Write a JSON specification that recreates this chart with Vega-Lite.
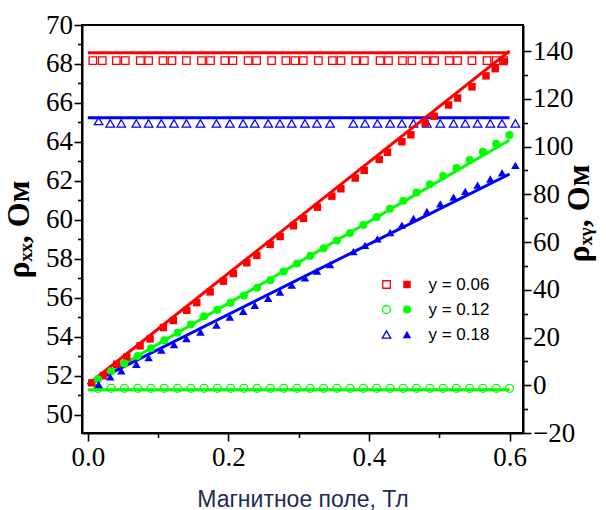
{
  "$schema": "https://vega.github.io/schema/vega-lite/v6.json",
  "width": 441,
  "height": 408,
  "autosize": {"type": "none"},
  "padding": {"left": 82, "top": 25, "right": 83, "bottom": 77},
  "background": "white",
  "config": {
    "view": {"stroke": "black", "strokeWidth": 2},
    "axis": {
      "grid": false,
      "domainColor": "black",
      "domainWidth": 2,
      "tickColor": "black",
      "tickWidth": 1.6,
      "labelColor": "black",
      "labelFont": "'Liberation Serif', 'Times New Roman', serif",
      "labelFontSize": 27,
      "labelFlush": false,
      "labelOverlap": false,
      "titleColor": "black"
    }
  },
  "datasets": {
    "xx_lines": [
      {"series": "y = 0.06", "B": 0, "rho": 68.58},
      {"series": "y = 0.06", "B": 0.6, "rho": 68.58},
      {"series": "y = 0.12", "B": 0, "rho": 51.27},
      {"series": "y = 0.12", "B": 0.6, "rho": 51.27},
      {"series": "y = 0.18", "B": 0, "rho": 65.24},
      {"series": "y = 0.18", "B": 0.6, "rho": 65.24}
    ],
    "xy_lines": [
      {"series": "y = 0.06", "B": 0, "rho": 0.3},
      {"series": "y = 0.06", "B": 0.6, "rho": 140},
      {"series": "y = 0.12", "B": 0, "rho": 0.2},
      {"series": "y = 0.12", "B": 0.6, "rho": 102.7},
      {"series": "y = 0.18", "B": 0, "rho": 0.3},
      {"series": "y = 0.18", "B": 0.6, "rho": 88.5}
    ],
    "xx_pts": [
      {"series": "y = 0.06", "B": 0.0071, "rho": 68.17},
      {"series": "y = 0.06", "B": 0.0205, "rho": 68.17},
      {"series": "y = 0.06", "B": 0.0405, "rho": 68.17},
      {"series": "y = 0.06", "B": 0.0533, "rho": 68.17},
      {"series": "y = 0.06", "B": 0.0747, "rho": 68.17},
      {"series": "y = 0.06", "B": 0.0865, "rho": 68.17},
      {"series": "y = 0.06", "B": 0.1069, "rho": 68.17},
      {"series": "y = 0.06", "B": 0.1197, "rho": 68.17},
      {"series": "y = 0.06", "B": 0.1403, "rho": 68.17},
      {"series": "y = 0.06", "B": 0.1617, "rho": 68.17},
      {"series": "y = 0.06", "B": 0.1745, "rho": 68.17},
      {"series": "y = 0.06", "B": 0.1949, "rho": 68.17},
      {"series": "y = 0.06", "B": 0.2063, "rho": 68.17},
      {"series": "y = 0.06", "B": 0.2281, "rho": 68.17},
      {"series": "y = 0.06", "B": 0.2401, "rho": 68.17},
      {"series": "y = 0.06", "B": 0.2614, "rho": 68.17},
      {"series": "y = 0.06", "B": 0.2818, "rho": 68.17},
      {"series": "y = 0.06", "B": 0.2947, "rho": 68.17},
      {"series": "y = 0.06", "B": 0.3065, "rho": 68.17},
      {"series": "y = 0.06", "B": 0.3279, "rho": 68.17},
      {"series": "y = 0.06", "B": 0.3478, "rho": 68.17},
      {"series": "y = 0.06", "B": 0.3602, "rho": 68.17},
      {"series": "y = 0.06", "B": 0.3812, "rho": 68.17},
      {"series": "y = 0.06", "B": 0.3934, "rho": 68.17},
      {"series": "y = 0.06", "B": 0.4158, "rho": 68.17},
      {"series": "y = 0.06", "B": 0.4277, "rho": 68.17},
      {"series": "y = 0.06", "B": 0.4476, "rho": 68.17},
      {"series": "y = 0.06", "B": 0.4610, "rho": 68.17},
      {"series": "y = 0.06", "B": 0.4810, "rho": 68.17},
      {"series": "y = 0.06", "B": 0.4932, "rho": 68.17},
      {"series": "y = 0.06", "B": 0.5142, "rho": 68.17},
      {"series": "y = 0.06", "B": 0.5260, "rho": 68.17},
      {"series": "y = 0.06", "B": 0.5465, "rho": 68.17},
      {"series": "y = 0.06", "B": 0.5679, "rho": 68.17},
      {"series": "y = 0.06", "B": 0.5808, "rho": 68.17},
      {"series": "y = 0.06", "B": 0.5916, "rho": 68.17},
      {"series": "y = 0.12", "B": 0.0143, "rho": 51.35},
      {"series": "y = 0.12", "B": 0.0332, "rho": 51.35},
      {"series": "y = 0.12", "B": 0.0520, "rho": 51.35},
      {"series": "y = 0.12", "B": 0.0709, "rho": 51.35},
      {"series": "y = 0.12", "B": 0.0898, "rho": 51.35},
      {"series": "y = 0.12", "B": 0.1087, "rho": 51.35},
      {"series": "y = 0.12", "B": 0.1276, "rho": 51.35},
      {"series": "y = 0.12", "B": 0.1465, "rho": 51.35},
      {"series": "y = 0.12", "B": 0.1654, "rho": 51.35},
      {"series": "y = 0.12", "B": 0.1843, "rho": 51.35},
      {"series": "y = 0.12", "B": 0.2032, "rho": 51.35},
      {"series": "y = 0.12", "B": 0.2220, "rho": 51.35},
      {"series": "y = 0.12", "B": 0.2409, "rho": 51.35},
      {"series": "y = 0.12", "B": 0.2598, "rho": 51.35},
      {"series": "y = 0.12", "B": 0.2787, "rho": 51.35},
      {"series": "y = 0.12", "B": 0.2976, "rho": 51.35},
      {"series": "y = 0.12", "B": 0.3165, "rho": 51.35},
      {"series": "y = 0.12", "B": 0.3354, "rho": 51.35},
      {"series": "y = 0.12", "B": 0.3543, "rho": 51.35},
      {"series": "y = 0.12", "B": 0.3731, "rho": 51.35},
      {"series": "y = 0.12", "B": 0.3920, "rho": 51.35},
      {"series": "y = 0.12", "B": 0.4109, "rho": 51.35},
      {"series": "y = 0.12", "B": 0.4298, "rho": 51.35},
      {"series": "y = 0.12", "B": 0.4487, "rho": 51.35},
      {"series": "y = 0.12", "B": 0.4676, "rho": 51.35},
      {"series": "y = 0.12", "B": 0.4865, "rho": 51.35},
      {"series": "y = 0.12", "B": 0.5054, "rho": 51.35},
      {"series": "y = 0.12", "B": 0.5243, "rho": 51.35},
      {"series": "y = 0.12", "B": 0.5431, "rho": 51.35},
      {"series": "y = 0.12", "B": 0.5620, "rho": 51.35},
      {"series": "y = 0.12", "B": 0.5809, "rho": 51.35},
      {"series": "y = 0.12", "B": 0.5998, "rho": 51.35},
      {"series": "y = 0.18", "B": 0.0153, "rho": 65.07},
      {"series": "y = 0.18", "B": 0.0319, "rho": 64.95},
      {"series": "y = 0.18", "B": 0.0476, "rho": 64.95},
      {"series": "y = 0.18", "B": 0.0690, "rho": 64.95},
      {"series": "y = 0.18", "B": 0.0865, "rho": 64.95},
      {"series": "y = 0.18", "B": 0.1046, "rho": 64.95},
      {"series": "y = 0.18", "B": 0.1226, "rho": 64.95},
      {"series": "y = 0.18", "B": 0.1403, "rho": 64.95},
      {"series": "y = 0.18", "B": 0.1602, "rho": 64.95},
      {"series": "y = 0.18", "B": 0.1830, "rho": 64.95},
      {"series": "y = 0.18", "B": 0.2020, "rho": 64.95},
      {"series": "y = 0.18", "B": 0.2210, "rho": 64.95},
      {"series": "y = 0.18", "B": 0.2376, "rho": 64.95},
      {"series": "y = 0.18", "B": 0.2566, "rho": 64.95},
      {"series": "y = 0.18", "B": 0.2733, "rho": 64.95},
      {"series": "y = 0.18", "B": 0.2900, "rho": 64.95},
      {"series": "y = 0.18", "B": 0.3089, "rho": 64.95},
      {"series": "y = 0.18", "B": 0.3260, "rho": 64.95},
      {"series": "y = 0.18", "B": 0.3446, "rho": 64.95},
      {"series": "y = 0.18", "B": 0.3778, "rho": 64.95},
      {"series": "y = 0.18", "B": 0.3944, "rho": 64.95},
      {"series": "y = 0.18", "B": 0.4120, "rho": 64.95},
      {"series": "y = 0.18", "B": 0.4301, "rho": 64.95},
      {"series": "y = 0.18", "B": 0.4468, "rho": 64.95},
      {"series": "y = 0.18", "B": 0.4633, "rho": 64.95},
      {"series": "y = 0.18", "B": 0.4824, "rho": 64.95},
      {"series": "y = 0.18", "B": 0.5014, "rho": 64.95},
      {"series": "y = 0.18", "B": 0.5203, "rho": 64.95},
      {"series": "y = 0.18", "B": 0.5370, "rho": 64.95},
      {"series": "y = 0.18", "B": 0.5545, "rho": 64.95},
      {"series": "y = 0.18", "B": 0.5726, "rho": 64.95},
      {"series": "y = 0.18", "B": 0.5893, "rho": 64.95},
      {"series": "y = 0.18", "B": 0.6083, "rho": 64.95}
    ],
    "xy_pts": [
      {"series": "y = 0.06", "B": 0.0056, "rho": 1.0},
      {"series": "y = 0.06", "B": 0.0221, "rho": 4.0},
      {"series": "y = 0.06", "B": 0.0411, "rho": 8.8},
      {"series": "y = 0.06", "B": 0.0554, "rho": 11.8},
      {"series": "y = 0.06", "B": 0.0743, "rho": 16.5},
      {"series": "y = 0.06", "B": 0.0885, "rho": 19.4},
      {"series": "y = 0.06", "B": 0.1075, "rho": 24.2},
      {"series": "y = 0.06", "B": 0.1217, "rho": 27.1},
      {"series": "y = 0.06", "B": 0.1408, "rho": 31.4},
      {"series": "y = 0.06", "B": 0.1550, "rho": 34.6},
      {"series": "y = 0.06", "B": 0.1740, "rho": 39.1},
      {"series": "y = 0.06", "B": 0.1929, "rho": 43.6},
      {"series": "y = 0.06", "B": 0.2071, "rho": 46.8},
      {"series": "y = 0.06", "B": 0.2262, "rho": 51.3},
      {"series": "y = 0.06", "B": 0.2404, "rho": 54.4},
      {"series": "y = 0.06", "B": 0.2594, "rho": 59.0},
      {"series": "y = 0.06", "B": 0.2736, "rho": 62.3},
      {"series": "y = 0.06", "B": 0.2925, "rho": 66.8},
      {"series": "y = 0.06", "B": 0.3068, "rho": 69.9},
      {"series": "y = 0.06", "B": 0.3267, "rho": 74.6},
      {"series": "y = 0.06", "B": 0.3472, "rho": 79.2},
      {"series": "y = 0.06", "B": 0.3600, "rho": 82.3},
      {"series": "y = 0.06", "B": 0.3804, "rho": 86.8},
      {"series": "y = 0.06", "B": 0.3932, "rho": 90.0},
      {"series": "y = 0.06", "B": 0.4145, "rho": 94.6},
      {"series": "y = 0.06", "B": 0.4263, "rho": 97.6},
      {"series": "y = 0.06", "B": 0.4468, "rho": 102.0},
      {"series": "y = 0.06", "B": 0.4596, "rho": 104.9},
      {"series": "y = 0.06", "B": 0.4800, "rho": 109.7},
      {"series": "y = 0.06", "B": 0.4928, "rho": 112.7},
      {"series": "y = 0.06", "B": 0.5132, "rho": 117.4},
      {"series": "y = 0.06", "B": 0.5260, "rho": 120.3},
      {"series": "y = 0.06", "B": 0.5465, "rho": 125.0},
      {"series": "y = 0.06", "B": 0.5664, "rho": 129.6},
      {"series": "y = 0.06", "B": 0.5796, "rho": 132.6},
      {"series": "y = 0.06", "B": 0.5924, "rho": 135.6},
      {"series": "y = 0.12", "B": 0.0143, "rho": 2.5},
      {"series": "y = 0.12", "B": 0.0332, "rho": 5.9},
      {"series": "y = 0.12", "B": 0.0520, "rho": 9.1},
      {"series": "y = 0.12", "B": 0.0709, "rho": 12.3},
      {"series": "y = 0.12", "B": 0.0898, "rho": 15.5},
      {"series": "y = 0.12", "B": 0.1087, "rho": 18.8},
      {"series": "y = 0.12", "B": 0.1276, "rho": 22.0},
      {"series": "y = 0.12", "B": 0.1465, "rho": 25.4},
      {"series": "y = 0.12", "B": 0.1654, "rho": 28.9},
      {"series": "y = 0.12", "B": 0.1843, "rho": 31.6},
      {"series": "y = 0.12", "B": 0.2032, "rho": 34.6},
      {"series": "y = 0.12", "B": 0.2220, "rho": 37.6},
      {"series": "y = 0.12", "B": 0.2409, "rho": 40.8},
      {"series": "y = 0.12", "B": 0.2598, "rho": 44.0},
      {"series": "y = 0.12", "B": 0.2787, "rho": 47.6},
      {"series": "y = 0.12", "B": 0.2976, "rho": 51.0},
      {"series": "y = 0.12", "B": 0.3165, "rho": 54.2},
      {"series": "y = 0.12", "B": 0.3354, "rho": 57.4},
      {"series": "y = 0.12", "B": 0.3543, "rho": 60.6},
      {"series": "y = 0.12", "B": 0.3731, "rho": 63.8},
      {"series": "y = 0.12", "B": 0.3920, "rho": 67.1},
      {"series": "y = 0.12", "B": 0.4109, "rho": 70.5},
      {"series": "y = 0.12", "B": 0.4298, "rho": 73.9},
      {"series": "y = 0.12", "B": 0.4487, "rho": 77.3},
      {"series": "y = 0.12", "B": 0.4676, "rho": 80.7},
      {"series": "y = 0.12", "B": 0.4865, "rho": 84.2},
      {"series": "y = 0.12", "B": 0.5054, "rho": 87.6},
      {"series": "y = 0.12", "B": 0.5243, "rho": 91.0},
      {"series": "y = 0.12", "B": 0.5431, "rho": 94.4},
      {"series": "y = 0.12", "B": 0.5620, "rho": 97.8},
      {"series": "y = 0.12", "B": 0.5809, "rho": 101.2},
      {"series": "y = 0.12", "B": 0.5998, "rho": 104.8},
      {"series": "y = 0.18", "B": 0.0153, "rho": 0.3},
      {"series": "y = 0.18", "B": 0.0319, "rho": 3.5},
      {"series": "y = 0.18", "B": 0.0476, "rho": 6.0},
      {"series": "y = 0.18", "B": 0.0690, "rho": 8.8},
      {"series": "y = 0.18", "B": 0.0865, "rho": 11.6},
      {"series": "y = 0.18", "B": 0.1046, "rho": 14.7},
      {"series": "y = 0.18", "B": 0.1226, "rho": 17.0},
      {"series": "y = 0.18", "B": 0.1403, "rho": 19.5},
      {"series": "y = 0.18", "B": 0.1602, "rho": 22.3},
      {"series": "y = 0.18", "B": 0.1830, "rho": 25.2},
      {"series": "y = 0.18", "B": 0.2020, "rho": 28.6},
      {"series": "y = 0.18", "B": 0.2210, "rho": 31.0},
      {"series": "y = 0.18", "B": 0.2376, "rho": 33.5},
      {"series": "y = 0.18", "B": 0.2566, "rho": 36.4},
      {"series": "y = 0.18", "B": 0.2733, "rho": 39.0},
      {"series": "y = 0.18", "B": 0.2900, "rho": 42.0},
      {"series": "y = 0.18", "B": 0.3089, "rho": 45.0},
      {"series": "y = 0.18", "B": 0.3260, "rho": 47.8},
      {"series": "y = 0.18", "B": 0.3446, "rho": 50.5},
      {"series": "y = 0.18", "B": 0.3778, "rho": 56.0},
      {"series": "y = 0.18", "B": 0.3944, "rho": 58.6},
      {"series": "y = 0.18", "B": 0.4120, "rho": 61.3},
      {"series": "y = 0.18", "B": 0.4301, "rho": 64.0},
      {"series": "y = 0.18", "B": 0.4468, "rho": 67.1},
      {"series": "y = 0.18", "B": 0.4633, "rho": 69.9},
      {"series": "y = 0.18", "B": 0.4824, "rho": 72.8},
      {"series": "y = 0.18", "B": 0.5014, "rho": 76.0},
      {"series": "y = 0.18", "B": 0.5203, "rho": 78.8},
      {"series": "y = 0.18", "B": 0.5370, "rho": 81.2},
      {"series": "y = 0.18", "B": 0.5545, "rho": 83.8},
      {"series": "y = 0.18", "B": 0.5726, "rho": 86.4},
      {"series": "y = 0.18", "B": 0.5893, "rho": 89.0},
      {"series": "y = 0.18", "B": 0.6083, "rho": 92.1}
    ]
  },
  "layer": [
    {
      "encoding": {
        "x": {
          "field": "B", "type": "quantitative",
          "scale": {"domain": [-0.0083, 0.6191], "nice": false, "zero": false},
          "axis": {
            "values": [0, 0.1, 0.2, 0.3, 0.4, 0.5, 0.6],
            "labelExpr": "round(datum.value*10) % 2 === 0 ? format(datum.value, '.1f') : ''",
            "tickSize": {"condition": {"test": "round(datum.value*10) % 2 === 0", "value": 8}, "value": 4.5},
            "labelFont": "'Liberation Serif', 'Times New Roman', serif",
            "labelFontSize": 27,
            "labelPadding": 3,
            "title": "Магнитное поле, Тл",
            "titleFont": "Liberation Sans",
            "titleFontSize": 23,
            "titleFontWeight": "normal",
            "titleColor": "#1b2d55",
            "titlePadding": 18
          }
        },
        "y": {
          "field": "rho", "type": "quantitative",
          "scale": {"domain": [49.055, 70], "nice": false, "zero": false},
          "axis": {
            "orient": "left",
            "values": [50, 51, 52, 53, 54, 55, 56, 57, 58, 59, 60, 61, 62, 63, 64, 65, 66, 67, 68, 69, 70],
            "format": "d",
            "labelExpr": "datum.value % 2 === 0 ? datum.label : ''",
            "tickSize": {"condition": {"test": "datum.value % 2 === 0", "value": 8}, "value": 4.5},
            "labelFont": "'Liberation Serif', 'Times New Roman', serif",
            "labelFontSize": 27,
            "labelPadding": 1.5,
            "title": "ρₓₓ, Ом",
            "titleFont": "'Liberation Serif', 'Times New Roman', serif",
            "titleFontSize": 32,
            "titleFontWeight": "bold",
            "titlePadding": 10
          }
        }
      },
      "layer": [
        {
          "data": {"name": "xx_lines"},
          "mark": {"type": "line", "strokeWidth": 3},
          "encoding": {
            "color": {"field": "series", "type": "nominal", "scale": {"domain": ["y = 0.06", "y = 0.12", "y = 0.18"], "range": ["#ff0000", "#00ff00", "#0000ff"]}, "legend": null}
          }
        },
        {
          "data": {"name": "xx_pts"},
          "mark": {"type": "point", "filled": false, "strokeWidth": 1.3, "opacity": 1},
          "encoding": {
            "stroke": {
              "field": "series", "type": "nominal",
              "scale": {"domain": ["y = 0.06", "y = 0.12", "y = 0.18"], "range": ["#ff0000", "#00ff00", "#0000ff"]},
              "legend": {
                "orient": "none", "legendX": 296, "legendY": 251,
                "title": null, "padding": 0,
                "labelExpr": "''", "labelFont": "Liberation Sans", "labelFontSize": 17,
                "labelOffset": 16, "rowPadding": 7,
                "symbolStrokeWidth": 1.3, "symbolFillColor": "transparent"
              }
            },
            "shape": {"field": "series", "type": "nominal", "scale": {"domain": ["y = 0.06", "y = 0.12", "y = 0.18"], "range": ["square", "circle", "triangle-up"]}},
            "size": {"field": "series", "type": "nominal", "scale": {"domain": ["y = 0.06", "y = 0.12", "y = 0.18"], "range": [56, 72, 100]}}
          }
        }
      ]
    },
    {
      "encoding": {
        "x": {
          "field": "B", "type": "quantitative",
          "scale": {"domain": [-0.0083, 0.6191], "nice": false, "zero": false},
          "axis": {
            "values": [0, 0.1, 0.2, 0.3, 0.4, 0.5, 0.6],
            "labelExpr": "round(datum.value*10) % 2 === 0 ? format(datum.value, '.1f') : ''",
            "tickSize": {"condition": {"test": "round(datum.value*10) % 2 === 0", "value": 8}, "value": 4.5},
            "labelFont": "'Liberation Serif', 'Times New Roman', serif",
            "labelFontSize": 27,
            "labelPadding": 3,
            "title": "Магнитное поле, Тл",
            "titleFont": "Liberation Sans",
            "titleFontSize": 23,
            "titleFontWeight": "normal",
            "titleColor": "#1b2d55",
            "titlePadding": 18
          }
        },
        "y": {
          "field": "rho", "type": "quantitative",
          "scale": {"domain": [-20, 150.9], "nice": false, "zero": false},
          "axis": {
            "orient": "right",
            "values": [-20, -10, 0, 10, 20, 30, 40, 50, 60, 70, 80, 90, 100, 110, 120, 130, 140],
            "format": "d",
            "labelExpr": "datum.value % 20 === 0 ? datum.label : ''",
            "tickSize": {"condition": {"test": "datum.value % 20 === 0", "value": 8}, "value": 4.5},
            "labelFont": "'Liberation Serif', 'Times New Roman', serif",
            "labelFontSize": 27,
            "labelPadding": 1.5,
            "title": "ρₓᵧ, Ом",
            "titleFont": "'Liberation Serif', 'Times New Roman', serif",
            "titleFontSize": 32,
            "titleFontWeight": "bold",
            "titleAngle": 270,
            "titleBaseline": "top",
            "titleY": 188,
            "titlePadding": -11
          }
        }
      },
      "layer": [
        {
          "data": {"name": "xy_lines"},
          "mark": {"type": "line", "strokeWidth": 3},
          "encoding": {
            "color": {"field": "series", "type": "nominal", "scale": {"domain": ["y = 0.06", "y = 0.12", "y = 0.18"], "range": ["#ff0000", "#00ff00", "#0000ff"]}, "legend": null}
          }
        },
        {
          "data": {"name": "xy_pts"},
          "mark": {"type": "point", "filled": true, "opacity": 1},
          "encoding": {
            "fill": {
              "field": "series", "type": "nominal",
              "scale": {"domain": ["y = 0.06", "y = 0.12", "y = 0.18"], "range": ["#ff0000", "#00ff00", "#0000ff"]},
              "legend": {
                "orient": "none", "legendX": 316.5, "legendY": 251,
                "title": null, "padding": 0,
                "labelFont": "Liberation Sans", "labelFontSize": 17, "labelColor": "black",
                "labelOffset": 13, "rowPadding": 7
              }
            },
            "shape": {"field": "series", "type": "nominal", "scale": {"domain": ["y = 0.06", "y = 0.12", "y = 0.18"], "range": ["square", "circle", "triangle-up"]}},
            "size": {"field": "series", "type": "nominal", "scale": {"domain": ["y = 0.06", "y = 0.12", "y = 0.18"], "range": [56, 72, 100]}}
          }
        }
      ]
    }
  ],
  "resolve": {
    "scale": {"y": "independent"},
    "legend": {"shape": "independent", "size": "independent", "stroke": "independent", "fill": "independent"}
  }
}
